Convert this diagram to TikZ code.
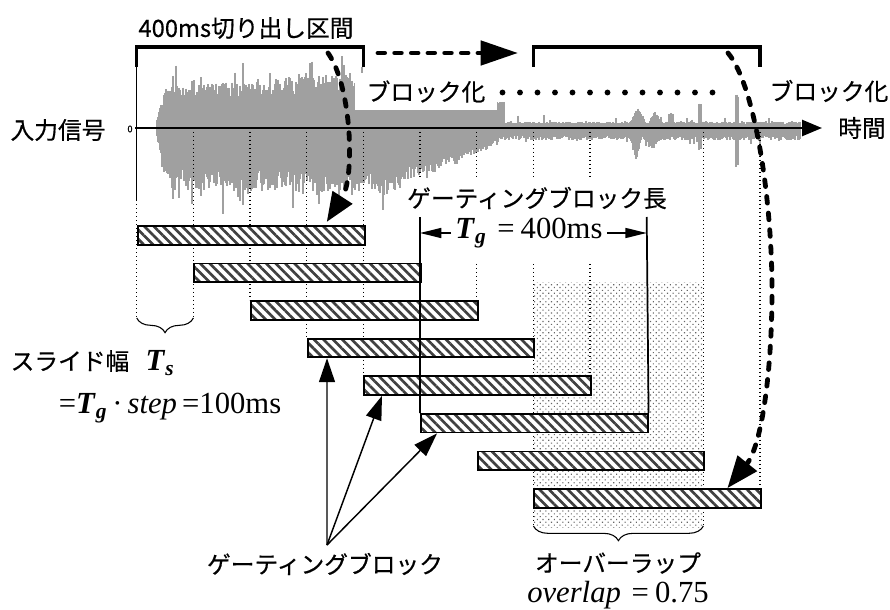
\documentclass[tikz,border=0pt]{standalone}
\usepackage{fontspec}
\setmainfont{Noto Sans CJK JP}[FakeBold=0.5]
\newfontfamily\tms{Liberation Serif}
\usetikzlibrary{arrows.meta,patterns.meta,decorations.pathreplacing,calc}
\definecolor{wavegray}{RGB}{160,160,160}
\newcommand{\myBT}{\textbf{\textit{T}}}
\newcommand{\mySub}[1]{\textsubscript{\textbf{\textit{#1}}}}
\begin{document}
\begin{tikzpicture}[x=0.75pt,y=-0.75pt,
  jp/.style={font=\fontsize{17.8}{21}\selectfont, inner sep=1pt},
  tm/.style={font=\tms\fontsize{23}{26}\selectfont, inner sep=1pt},
  bar/.style={draw, line width=1.4pt, preaction={fill=white},
    pattern={Lines[angle=-45,distance=5pt,line width=2pt]}, pattern color=black!75,
    minimum width=170pt, minimum height=13.9pt, inner sep=0pt, anchor=north west},
  dotl/.style={line width=0.8pt, dash pattern=on 0.8pt off 2.2pt},
  brk/.style={line width=2.4pt},
  bigdash/.style={line width=3.6pt, line cap=round, dash pattern=on 5pt off 7.5pt},
  wave/.style={wavegray, line width=0.9pt},
  thinarrow/.style={line width=1.1pt, -{Triangle[length=18pt,width=12pt]}},
  dimarrow/.style={line width=1.1pt, -{Triangle[length=16pt,width=7.5pt]}},
  brace/.style={decorate, decoration={brace, amplitude=11pt, mirror}, line width=0.8pt}
]
\useasboundingbox (0,0) rectangle (890,610);

% ---------- waveform ----------
\pgfmathsetseed{12345}
\foreach \x in {157,...,800}{
  \pgfmathsetmacro{\wA}{\x<165 ? 8+3.4*(\x-157) : (\x<363 ? 38+0.07*(\x-165) : (\x<497 ? 48 : 6))}
  \pgfmathsetmacro{\wB}{\x<363 ? (rnd>0.85 ? 26*rnd : 0) : 0}
  \pgfmathsetmacro{\wC}{\x<497 ? 0 : ((\x<505 ? 20 : 0) + (abs(\x-638)<8 ? 14*(1-abs(\x-638)/8) : 0) + (abs(\x-655)<6 ? 10*(1-abs(\x-655)/6) : 0) + (abs(\x-671)<3 ? 8 : 0) + (abs(\x-700)<2 ? 18 : 0) + (abs(\x-737)<2 ? 27 : 0) + (rnd>0.95 ? 7*rnd : 0))}
  \pgfmathsetmacro{\wTop}{\wA*(0.7+0.4*rnd)+\wB+\wC}
  \pgfmathsetmacro{\wD}{\x<165 ? 8+5.5*(\x-157) : (\x<400 ? 58 : (\x<500 ? 58-0.44*(\x-400) : 11))}
  \pgfmathsetmacro{\wE}{\x<400 ? (rnd>0.85 ? 24*rnd : 0) : 0}
  \pgfmathsetmacro{\wF}{\x<500 ? 0 : ((abs(\x-636)<6 ? 22*(1-abs(\x-636)/6) : 0) + (abs(\x-652)<8 ? 10*(1-abs(\x-652)/8) : 0) + (abs(\x-700)<2 ? 10 : 0) + (abs(\x-737)<2 ? 28 : 0) + (rnd>0.95 ? 6*rnd : 0))}
  \pgfmathsetmacro{\wBot}{\wD*(0.7+0.4*rnd)+\wE+\wF}
  \draw[wave] (\x,{128-\wTop}) -- (\x,{128+\wBot});
}

% ---------- stipple (overlap) ----------
\fill[pattern={Dots[distance=3pt,radius=0.6pt,angle=45]}, pattern color=black!60] (533.4,282) rectangle (703.4,527);

% ---------- dotted guide lines ----------
\draw[dotl] (136.7,200) -- (136.7,318);
\draw[dotl] (193.4,128) -- (193.4,318);
\draw[dotl] (250.0,128) -- (250.0,300);
\draw[dotl] (306.7,128) -- (306.7,338);
\draw[dotl] (363.4,128) -- (363.4,375);
\draw[dotl] (420.0,128) -- (420.0,217);
\draw[dotl] (476.7,128) -- (476.7,300);
\draw[dotl] (533.4,128) -- (533.4,527);
\draw[dotl] (590.0,128) -- (590.0,375);
\draw[dotl] (703.4,128) -- (703.4,527);
\draw[dotl] (760.0,128) -- (760.0,488);

% white area behind the gating-length labels
\fill[white] (402,179) rectangle (665,262);

% ---------- gating blocks ----------
\foreach \i in {1,...,8}{
  \node[bar] (b\i) at ({136.7+56.67*(\i-1)},{225+37.6*(\i-1)}) {};
}

% ---------- block length lines ----------
\coordinate (v1t) at (420,217);
\coordinate (v2t) at (646.7,217);
\draw[line width=1.3pt] (v1t) -- (b6.north west);
\draw[line width=1.3pt] (v2t) -- (b6.north east);

% ---------- axes ----------
\coordinate (ax0) at (135,128);
\coordinate (ax1) at (822,128);
\draw[line width=1.9pt, -{Triangle[length=15pt,width=12pt]}] (ax0) -- (ax1);
\draw[line width=0.9pt] (136.7,67) -- (136.7,200);

% ---------- brackets ----------
\draw[brk] (136.7,67) -- (136.7,47) -- (363.4,47) -- (363.4,67);
\draw[brk] (533.4,67) -- (533.4,47) -- (760,47) -- (760,67);

% ---------- labels ----------
\node[jp] (title) at (246,28) {400ms切り出し区間};
\node[jp] (inp) at (58,130) {入力信号};
\node[font=\fontsize{7}{8}\selectfont, inner sep=0pt] (zero) at (130,129) {0};
\node[jp] (time) at (862,128) {時間};
\node[jp, fill=white, minimum width=106.5pt, minimum height=27.75pt] (blk1) at (426,91.5) {ブロック化};
\node[jp] (blk2) at (829,91) {ブロック化};
\foreach \i in {0,...,12}{ \fill (502.5+17.5*\i,92.5) circle (2.2pt); }

% dashed arrows
\coordinate (hd0) at (378,53);
\coordinate (hd1) at (518,53);
\draw[bigdash, -{Triangle[length=28pt,width=18pt]}] (hd0) -- (hd1);
\coordinate (c1s) at (328,53);
\coordinate (c2s) at (728,53);
\draw[bigdash, -{Triangle[length=22pt,width=17pt]}] (c1s) .. controls (352,87) and (355,178) .. ($(b1.north west)+(190,-3)$);
\draw[bigdash, -{Triangle[length=24pt,width=18pt]}] (c2s) .. controls (755,85) and (772,200) .. (772,290) .. controls (772,370) and (762,445) .. ($(b8.north west)+(194,0)$);

% gating length
\node[jp] (gbl) at (537,198) {ゲーティングブロック長};
\node[tm, inner xsep=3pt] (tg) at (529,233) {\myBT\mySub{g}\hspace{0.35em}=\hspace{0.2em}400ms};
\draw[dimarrow] (tg.west) -- (tg.west -| v1t);
\draw[dimarrow] (tg.east) -- (tg.east -| v2t);

% slide width
\draw[brace] (136.7,318) -- (193.4,318);
\node[jp] (slide) at (70,361) {スライド幅};
\node[tm] (ts) at (160,363) {\myBT\mySub{s}};
\node[tm] (eq) at (170,408) {=\myBT\mySub{g}\,·\,\textit{step}\,=100ms};

% gating block arrows
\node[jp] (gb) at (325,564) {ゲーティングブロック};
\coordinate (gbtop) at (327,545);
\draw[thinarrow] (gbtop) -- ($(b4.south west)+(20.3,0)$);
\draw[thinarrow] (gbtop) -- ($(b5.south west)+(18.6,0)$);
\draw[thinarrow] (gbtop) -- ($(b6.south west)+(17,0)$);

% overlap
\draw[brace] (533.4,526) -- (703.4,526);
\node[jp] (ov) at (618,563) {オーバーラップ};
\node[tm] (ovv) at (618,595) {\textit{overlap}\hspace{0.35em}=\hspace{0.2em}0.75};
\end{tikzpicture}
\end{document}
